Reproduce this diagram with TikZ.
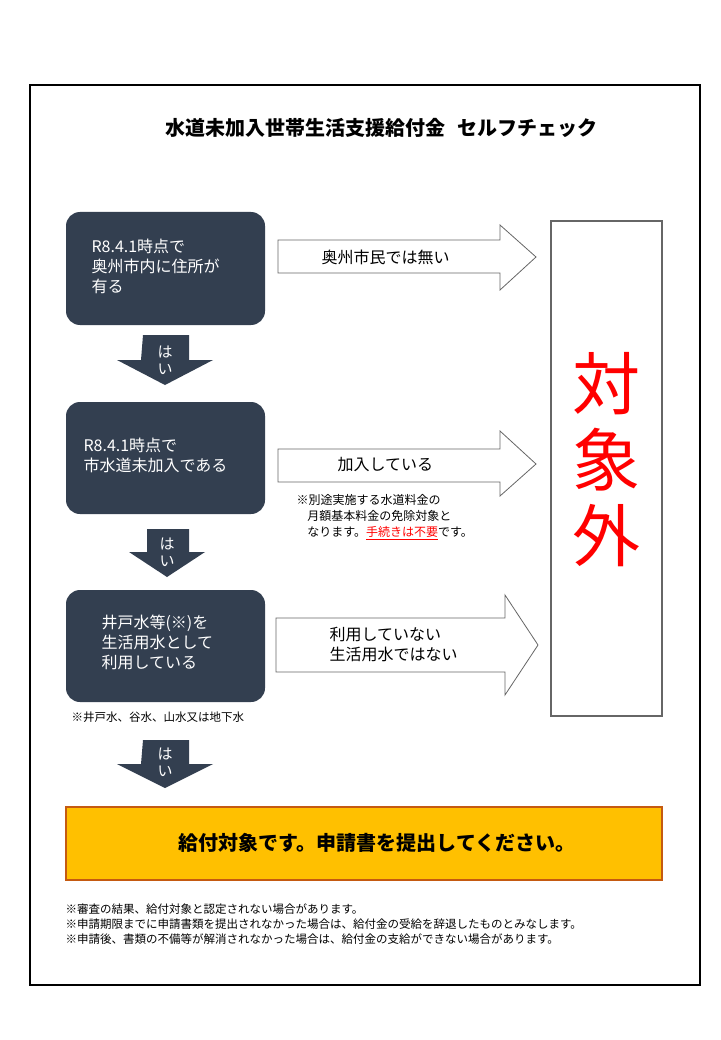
\documentclass[tikz,border=0pt]{standalone}
\usepackage{fontspec}
\setmainfont{Noto Sans CJK JP}
\usetikzlibrary{shapes.arrows}
\definecolor{dk}{HTML}{333F50}
\definecolor{og}{HTML}{FFC000}
\definecolor{ob}{HTML}{C55A11}
\begin{document}
\begin{tikzpicture}[x=1pt,y=-1pt,
 dbox/.style={fill=dk,rounded corners=14pt,draw=none},
 wt/.style={text=white,font=\fontsize{16}{20}\selectfont,align=left,anchor=west},
 rarr/.style={draw=gray!80!black,line width=0.8pt,fill=white},
 darr/.style={fill=dk},
 hai/.style={text=white,font=\fontsize{15}{17}\selectfont,align=center},
 lt/.style={font=\fontsize{16}{20}\selectfont,align=left,anchor=west},
 note/.style={font=\fontsize{11.5}{15}\selectfont,align=left,anchor=west}]
\useasboundingbox (0,0) rectangle (720,1040);
\fill[white] (0,0) rectangle (720,1040);
\draw[line width=1.2pt] (30,85) rectangle (700,985);
\node[font=\bfseries\fontsize{20}{24}\selectfont] (title) at (381,128) {水道未加入世帯生活支援給付金\hspace{0.6em}セルフチェック};
% dark boxes
\path[dbox] (66,212) rectangle (265,325); \node[wt] (q1) at (88,266) {R8.4.1時点で\\奥州市内に住所が\\有る};
\path[dbox] (66,402) rectangle (265,514); \node[wt] (q2) at (80,455) {R8.4.1時点で\\市水道未加入である};
\path[dbox] (66,590) rectangle (265,702); \node[wt] (q3) at (98,642) {井戸水等(※)を\\生活用水として\\利用している};
% down arrows
\fill[darr] (143,335)--(189,335)--(189,360)--(213,360)--(165,385)--(117,360)--(141,360)--cycle;
\node[hai] (h1) at (165,360) {は\\い};
\fill[darr] (147,529)--(189,529)--(189,552)--(205,552)--(167,577)--(129,552)--(147,552)--cycle;
\node[hai] (h2) at (167,552) {は\\い};
\fill[darr] (143,740)--(189,740)--(189,764)--(213,764)--(165,788)--(117,764)--(141,764)--cycle;
\node[hai] (h3) at (165,762) {は\\い};
% right arrows
\draw[rarr] (278,240)--(500,240)--(500,225)--(536,257)--(500,290)--(500,273)--(278,273)--cycle;
\node[lt] (a1) at (318,257) {奥州市民では無い};
\draw[rarr] (278,449)--(500,449)--(500,431)--(536,464)--(500,496)--(500,482)--(278,482)--cycle;
\node[lt] (a2) at (334,465) {加入している};
\draw[rarr] (276,618)--(505,618)--(505,595)--(538,645)--(505,695)--(505,672)--(276,672)--cycle;
\node[lt] (a3) at (326,645) {利用していない\\生活用水ではない};
\node[note,font=\fontsize{12}{16}\selectfont] (n1) at (293,517) {※別途実施する水道料金の\\\hspace{0.9em}月額基本料金の免除対象と\\\hspace{0.9em}なります。\textcolor{red}{\underline{手続きは不要}}です。};
\node[note] (n0) at (68,717) {※井戸水、谷水、山水又は地下水};
% right box
\draw[gray!80!black,line width=2.5pt,fill=white] (551,221) rectangle (662,716);
\node[text=red,font=\fontsize{68}{76}\selectfont,align=center] (tgt) at (606,460) {対\\象\\外};
% orange
\draw[fill=og,draw=ob,line width=2.5pt] (66,807) rectangle (662,880);
\node[font=\bfseries\fontsize{20}{24}\selectfont] (res) at (377,843) {給付対象です。申請書を提出してください。};
\node[note] (n2) at (62,924) {※審査の結果、給付対象と認定されない場合があります。\\※申請期限までに申請書類を提出されなかった場合は、給付金の受給を辞退したものとみなします。\\※申請後、書類の不備等が解消されなかった場合は、給付金の支給ができない場合があります。};
\end{tikzpicture}
\end{document}
